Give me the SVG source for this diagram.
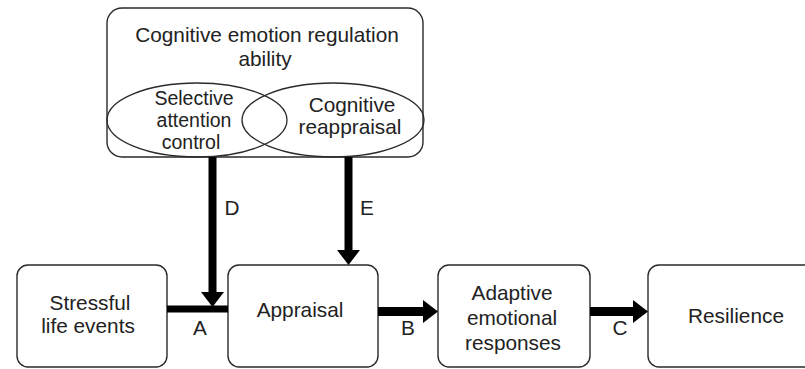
<svg xmlns="http://www.w3.org/2000/svg" width="805" height="369" viewBox="0 0 805 369">
<style>
.box{fill:#fff;stroke:#2a2a2a;stroke-width:1.4}
.ell{fill:none;stroke:#2a2a2a;stroke-width:1.3}
.t{font-family:"Liberation Sans",Arial,sans-serif;font-size:20.8px;fill:#222;text-anchor:middle}
.s{font-size:19.5px}
.c{stroke:#000;fill:none}
</style>
<defs>
<marker id="ah" markerUnits="userSpaceOnUse" markerWidth="16" markerHeight="23" refX="0" refY="11.5" orient="auto" overflow="visible">
<path d="M0,0 L15,11.5 L0,23 z" fill="#000"/>
</marker>
</defs>
<rect width="805" height="369" fill="#fff"/>
<g id="node-cera">
<rect class="box" x="107" y="8" width="316" height="149" rx="15"/>
<text class="t" x="267" y="42">Cognitive emotion regulation</text>
<text class="t" x="265" y="66">ability</text>
</g>
<g id="node-sac">
<ellipse class="ell" cx="197" cy="120" rx="90" ry="37"/>
<text class="t s" x="194" y="105">Selective</text>
<text class="t s" x="194" y="127">attention</text>
<text class="t s" x="191" y="149">control</text>
</g>
<g id="node-cr">
<ellipse class="ell" cx="333" cy="120" rx="91" ry="37"/>
<text class="t" x="352" y="112">Cognitive</text>
<text class="t" x="350" y="134">reappraisal</text>
</g>
<g id="node-sle">
<rect class="box" x="17" y="265" width="150" height="102" rx="11"/>
<text class="t" x="90" y="310">Stressful</text>
<text class="t" x="88" y="333">life events</text>
</g>
<g id="node-app">
<rect class="box" x="228" y="265" width="150" height="102" rx="11"/>
<text class="t" x="300" y="317">Appraisal</text>
</g>
<g id="node-aer">
<rect class="box" x="438" y="265" width="152" height="102" rx="11"/>
<text class="t" x="512" y="300">Adaptive</text>
<text class="t" x="512" y="325">emotional</text>
<text class="t" x="513" y="350">responses</text>
</g>
<g id="node-res">
<rect class="box" x="648" y="265" width="175" height="102" rx="11"/>
<text class="t" x="736" y="323">Resilience</text>
</g>
<g id="connectors">
<line class="c" x1="167" y1="309" x2="228" y2="309" stroke-width="7"/>
<line class="c" x1="212.5" y1="157" x2="212.5" y2="292" stroke-width="8" marker-end="url(#ah)"/>
<line class="c" x1="348.5" y1="157" x2="348.5" y2="250" stroke-width="8" marker-end="url(#ah)"/>
<line class="c" x1="378" y1="311.5" x2="423" y2="311.5" stroke-width="9" marker-end="url(#ah)"/>
<line class="c" x1="590" y1="311.5" x2="633" y2="311.5" stroke-width="9" marker-end="url(#ah)"/>
<text class="t" x="232" y="215">D</text>
<text class="t" x="367" y="215">E</text>
<text class="t" x="200" y="335">A</text>
<text class="t" x="408" y="335">B</text>
<text class="t" x="620" y="335">C</text>
</g>
</svg>
